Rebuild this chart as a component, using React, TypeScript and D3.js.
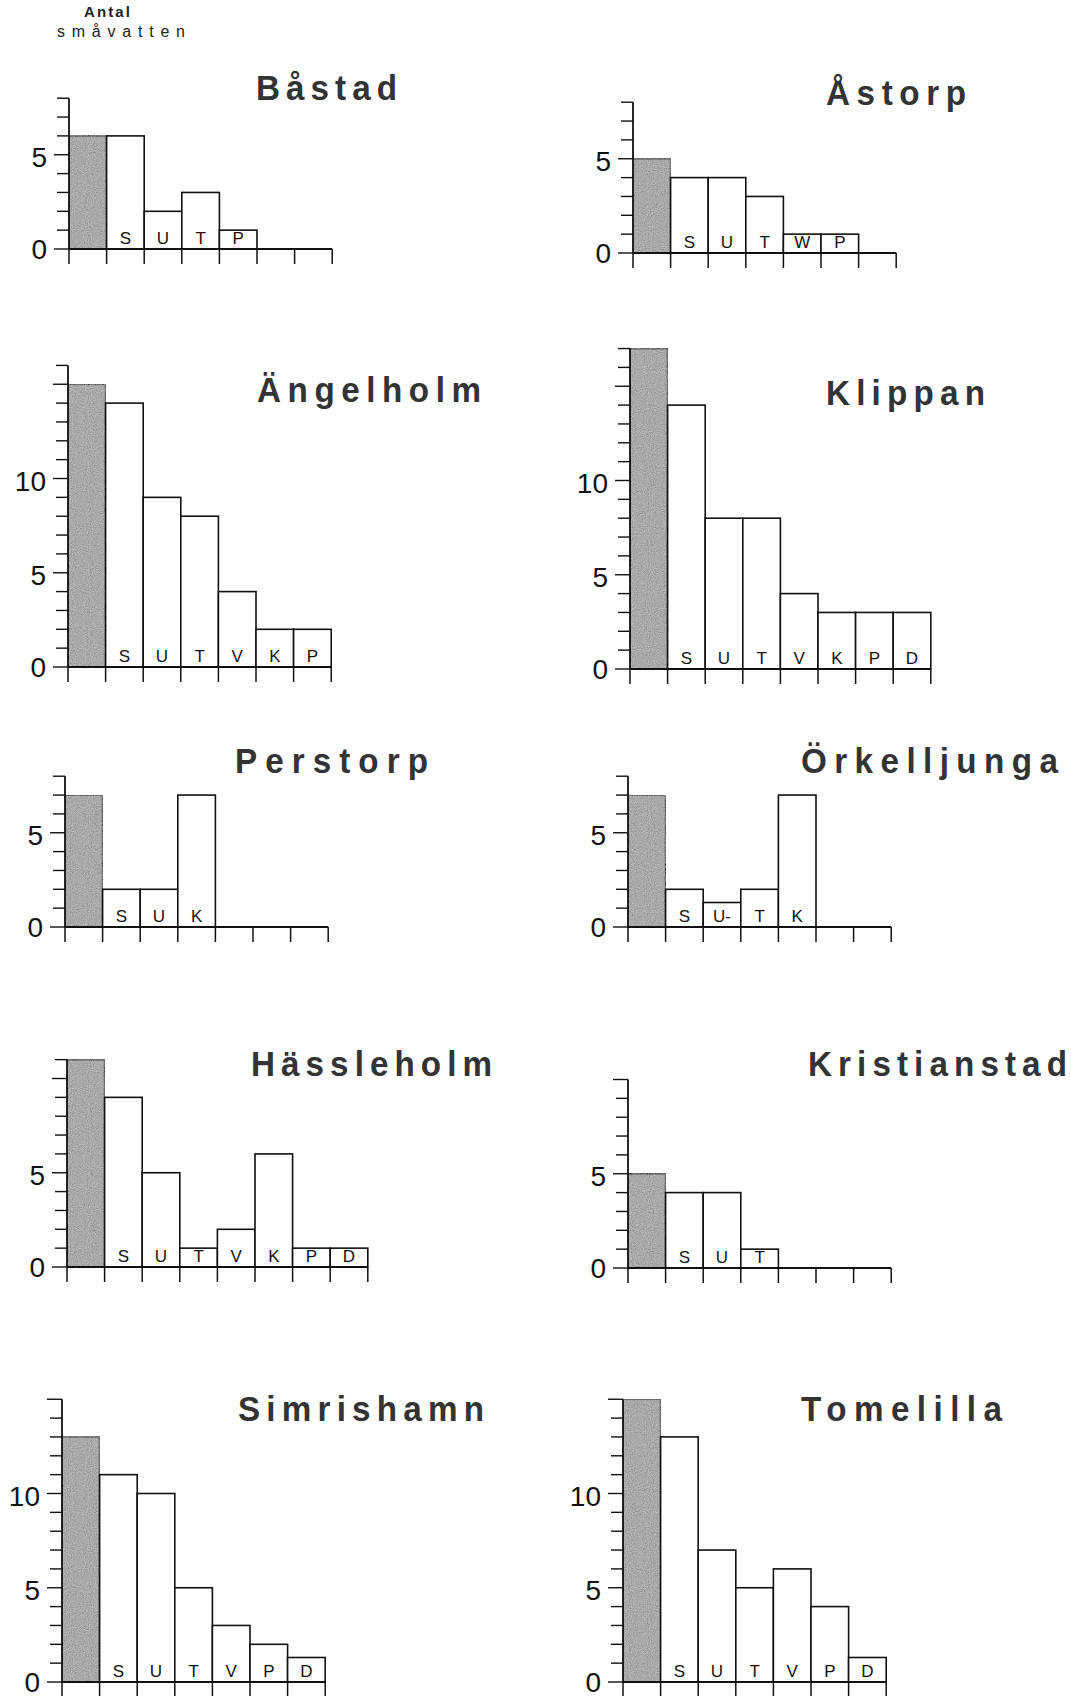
import React from 'react';
import * as d3 from 'd3';

// Antal småvatten per kommun; first slot (grey) = total, then by category letter
const towns = ['Båstad', 'Åstorp', 'Ängelholm', 'Klippan', 'Perstorp', 'Örkelljunga', 'Hässleholm', 'Kristianstad', 'Simrishamn', 'Tomelilla'];

const slotLetters = [
  ['', 'S', 'U', 'T', 'P', '', ''],
  ['', 'S', 'U', 'T', 'W', 'P', ''],
  ['', 'S', 'U', 'T', 'V', 'K', 'P'],
  ['', 'S', 'U', 'T', 'V', 'K', 'P', 'D'],
  ['', 'S', 'U', 'K', '', '', ''],
  ['', 'S', 'U-', 'T', 'K', '', ''],
  ['', 'S', 'U', 'T', 'V', 'K', 'P', 'D'],
  ['', 'S', 'U', 'T', '', '', ''],
  ['', 'S', 'U', 'T', 'V', 'P', 'D'],
  ['', 'S', 'U', 'T', 'V', 'P', 'D'],
];

const counts = [
  [6, 6, 2, 3, 1, 0, 0],
  [5, 4, 4, 3, 1, 1, 0],
  [15, 14, 9, 8, 4, 2, 2],
  [17, 14, 8, 8, 4, 3, 3, 3],
  [7, 2, 2, 7, 0, 0, 0],
  [7, 2, 1.3, 2, 7, 0, 0],
  [11, 9, 5, 1, 2, 6, 1, 1],
  [5, 4, 4, 1, 0, 0, 0],
  [13, 11, 10, 5, 3, 2, 1.3],
  [15, 13, 7, 5, 6, 4, 1.3],
];

const axisMax = [8, 8, 16, 17, 8, 8, 11, 10, 15, 15];

const tickLabels = [
  [0, 5], [0, 5], [0, 5, 10], [0, 5, 10], [0, 5], [0, 5], [0, 5], [0, 5], [0, 5, 10], [0, 5, 10],
];

// panel placement: axis origin, title anchor and title width
const layout = [
  { x: 69, base: 249, tx: 256, ty: 100, tw: 141 },
  { x: 633, base: 253, tx: 826, ty: 105, tw: 140 },
  { x: 68, base: 667, tx: 257, ty: 402, tw: 224 },
  { x: 630, base: 669, tx: 826, ty: 405, tw: 159 },
  { x: 65, base: 927, tx: 235, ty: 773, tw: 193 },
  { x: 628, base: 927, tx: 801, ty: 773, tw: 257 },
  { x: 67, base: 1267, tx: 251, ty: 1076, tw: 241 },
  { x: 628, base: 1268, tx: 808, ty: 1076, tw: 259 },
  { x: 62, base: 1682, tx: 238, ty: 1421, tw: 246 },
  { x: 623, base: 1682, tx: 801, ty: 1421, tw: 201 },
];

const UNIT = 18.85;
const SLOT = 37.6;
const INK = '#111';
const FONT = "'Liberation Sans', Arial, Helvetica, sans-serif";
const TITLE_SQUEEZE = 0.95;

function Panel({ idx }: { idx: number }) {
  const { x, base, tx, ty, tw } = layout[idx];
  const vals = counts[idx];
  const letters = slotLetters[idx];
  const max = axisMax[idx];
  const n = vals.length;

  const xs = d3.scaleBand<number>()
    .domain(d3.range(n))
    .range([x, x + n * SLOT])
    .padding(0);
  const ys = d3.scaleLinear().domain([0, max]).range([base, base - max * UNIT]);

  return (
    <g>
      <text transform={`translate(${tx},${ty}) scale(${TITLE_SQUEEZE},1)`} fontFamily={FONT} fontWeight={700}
        fontSize={35} textLength={tw / TITLE_SQUEEZE} lengthAdjust="spacing" fill="#333">{towns[idx]}</text>

      {vals.map((v, i) => v > 0 ? (
        <rect key={'b' + i} x={xs(i)} y={ys(v)} width={xs.bandwidth()} height={base - ys(v)}
          fill={i === 0 ? '#9c9c9c' : '#fff'} filter={i === 0 ? 'url(#grain)' : undefined}
          stroke={INK} strokeWidth={1.6} />
      ) : null)}

      {letters.map((l, i) => l ? (
        <text key={'l' + i} x={(xs(i) ?? 0) + xs.bandwidth() / 2} y={base - 5} textAnchor="middle"
          fontFamily={FONT} fontSize={17} fill={INK}>{l}</text>
      ) : null)}

      {/* x axis */}
      <line x1={x} x2={x + n * SLOT} y1={base} y2={base} stroke={INK} strokeWidth={1.8} />
      {d3.range(n + 1).map(i => (
        <line key={'xt' + i} x1={x + i * SLOT} x2={x + i * SLOT} y1={base} y2={base + 15}
          stroke={INK} strokeWidth={1.5} />
      ))}

      {/* y axis */}
      <line x1={x} x2={x} y1={base} y2={ys(max)} stroke={INK} strokeWidth={1.8} />
      {ys.ticks(max).filter(t => Number.isInteger(t)).map(t => (
        <line key={'yt' + t} x1={x - (t % 5 === 0 ? 15 : 12)} x2={x} y1={ys(t)} y2={ys(t)}
          stroke={INK} strokeWidth={1.4} />
      ))}
      {tickLabels[idx].map(t => (
        <text key={'yl' + t} x={x - 22} y={ys(t) + (t === 0 ? 0 : 3)} textAnchor="end" dominantBaseline="central"
          fontFamily={FONT} fontSize={28} fill={INK}>{t}</text>
      ))}
    </g>
  );
}

export default function App() {
  return (
    <svg width={1071} height={1696} viewBox="0 0 1071 1696"
      style={{ position: 'absolute', left: 0, top: 0, background: '#fff', display: 'block' }}>
      <defs>
        <filter id="grain" x="0" y="0" width="100%" height="100%">
          <feTurbulence type="fractalNoise" baseFrequency="0.95" numOctaves={2} seed={3} result="noise" />
          <feColorMatrix in="noise" type="matrix"
            values="0.33 0.33 0.33 0 0  0.33 0.33 0.33 0 0  0.33 0.33 0.33 0 0  0 0 0 0 1" result="gray" />
          <feComposite in="SourceGraphic" in2="gray" operator="arithmetic" k1={0} k2={0.75} k3={0.7} k4={-0.2} result="mix" />
          <feComposite in="mix" in2="SourceAlpha" operator="in" />
        </filter>
      </defs>
      <rect width={1071} height={1696} fill="#fff" />

      <text x={84} y={17} fontFamily={FONT} fontWeight={700}
        fontSize={15} textLength={46} lengthAdjust="spacing" fill="#222">Antal</text>
      <text x={57} y={37} fontFamily={FONT}
        fontSize={16} textLength={128} lengthAdjust="spacing" fill="#222">småvatten</text>

      {towns.map((_, i) => <Panel key={i} idx={i} />)}
    </svg>
  );
}
